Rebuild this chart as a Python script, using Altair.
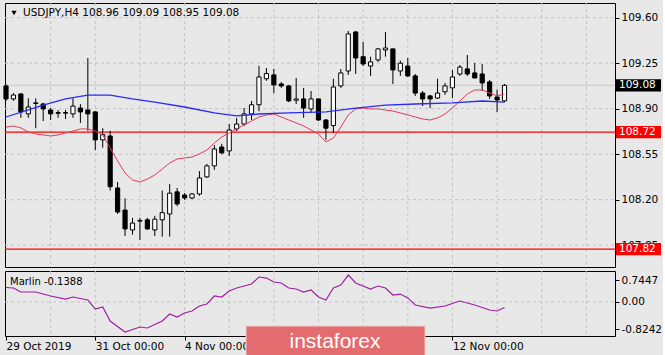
import altair as alt
import pandas as pd

# ---------------- data ----------------
opens = [109.075, 108.975, 109.013, 108.860, 108.940, 108.936, 108.890, 108.870, 108.865, 108.860,
         108.905, 108.890, 108.875, 108.660, 108.690, 108.290, 108.120, 107.967, 108.035, 108.045,
         107.967, 108.045, 108.090, 108.260, 108.236, 108.213, 108.244, 108.375, 108.460, 108.605,
         108.575, 108.744, 108.782, 108.860, 108.930, 109.130, 109.160, 109.090, 109.075, 108.965,
         108.975, 108.898, 108.975, 108.813, 108.770, 109.075, 109.190, 109.490, 109.300, 109.228,
         109.275, 109.352, 109.360, 109.190, 109.228, 109.152, 109.020, 108.998, 108.982, 109.030,
         109.060, 109.167, 109.206, 109.175, 109.167, 109.106, 108.990, 108.960]
highs = [109.090, 109.020, 109.020, 108.980, 108.980, 108.945, 108.905, 108.890, 108.890, 108.980,
         108.935, 109.290, 108.880, 108.750, 108.730, 108.336, 108.210, 108.060, 108.060, 108.060,
         108.075, 108.270, 108.320, 108.290, 108.250, 108.250, 108.420, 108.475, 108.620, 108.630,
         108.782, 108.828, 108.905, 108.960, 109.230, 109.213, 109.206, 109.105, 109.083, 109.136,
         109.060, 109.035, 108.980, 108.820, 109.130, 109.205, 109.498, 109.498, 109.413, 109.300,
         109.367, 109.490, 109.360, 109.270, 109.290, 109.167, 109.036, 109.006, 109.130, 109.098,
         109.198, 109.236, 109.313, 109.252, 109.244, 109.120, 109.045, 109.090]
lows = [108.960, 108.960, 108.830, 108.830, 108.750, 108.805, 108.813, 108.830, 108.820, 108.830,
        108.790, 108.730, 108.580, 108.600, 108.270, 108.090, 107.920, 107.930, 107.890, 107.967,
        107.920, 107.915, 107.915, 108.150, 108.198, 108.205, 108.230, 108.367, 108.430, 108.550,
        108.536, 108.728, 108.767, 108.813, 108.880, 109.114, 109.020, 109.060, 108.950, 108.936,
        108.830, 108.867, 108.805, 108.660, 108.713, 109.060, 109.160, 109.167, 109.228, 109.152,
        109.260, 109.300, 109.090, 109.152, 109.144, 108.998, 108.920, 108.905, 108.975, 109.006,
        108.982, 109.152, 109.152, 109.136, 109.036, 108.975, 108.875, 108.950]
closes = [108.975, 109.005, 108.875, 108.913, 108.945, 108.898, 108.860, 108.865, 108.870, 108.920,
          108.875, 108.860, 108.660, 108.700, 108.300, 108.105, 107.975, 108.020, 108.040, 107.975,
          108.050, 108.100, 108.250, 108.167, 108.213, 108.244, 108.367, 108.460, 108.590, 108.560,
          108.736, 108.782, 108.860, 108.930, 109.144, 109.170, 109.083, 109.075, 108.960, 108.975,
          108.905, 108.975, 108.813, 108.750, 109.067, 109.175, 109.475, 109.290, 109.244, 109.260,
          109.360, 109.367, 109.198, 109.250, 109.152, 109.020, 108.975, 108.975, 109.020, 109.075,
          109.144, 109.220, 109.167, 109.136, 109.098, 108.998, 108.967, 109.080]

red_ma = [108.759, 108.767, 108.752, 108.721, 108.705, 108.698, 108.690, 108.698, 108.713, 108.728,
          108.744, 108.744, 108.728, 108.698, 108.598, 108.498, 108.405, 108.352, 108.336, 108.359,
          108.390, 108.436, 108.482, 108.513, 108.521, 108.528, 108.552, 108.582, 108.636, 108.682,
          108.713, 108.744, 108.775, 108.805, 108.836, 108.852, 108.859, 108.836, 108.813, 108.790,
          108.767, 108.736, 108.705, 108.644, 108.675, 108.759, 108.852, 108.898, 108.905, 108.898,
          108.898, 108.890, 108.882, 108.867, 108.852, 108.836, 108.821, 108.813, 108.829, 108.859,
          108.905, 108.959, 109.013, 109.044, 109.044, 109.021, 108.998, 109.013]

blue_idx = [0, 3, 5, 8, 11, 14, 17, 20, 24, 28, 31, 34, 38, 43, 47, 51, 55, 60, 64, 67]
blue_ma = [108.836, 108.890, 108.928, 108.975, 109.005, 109.005, 108.975, 108.951, 108.913, 108.867,
           108.844, 108.859, 108.867, 108.875, 108.905, 108.928, 108.936, 108.944, 108.959, 108.951]

marlin_idx = [0, 1, 2, 4, 6, 8, 9, 11, 12, 13, 14, 16, 18, 19, 21, 22, 23, 24, 25, 26, 27, 28, 29,
              30, 31, 33, 34, 35, 36, 37, 38, 39, 40, 41, 42, 43, 44, 45, 46, 47, 49, 50, 51, 52,
              53, 54, 55, 57, 59, 61, 63, 65, 66, 67]
marlin_val = [0.360, 0.347, 0.247, 0.247, 0.148, 0.073, 0.123, 0.048, -0.176, -0.126, -0.474,
              -0.748, -0.623, -0.648, -0.474, -0.300, -0.375, -0.275, -0.225, -0.100, -0.050,
              0.148, 0.123, 0.272, 0.347, 0.446, 0.620, 0.595, 0.496, 0.471, 0.347, 0.322, 0.247,
              0.297, 0.123, 0.048, 0.347, 0.421, 0.670, 0.471, 0.322, 0.396, 0.347, 0.173, 0.197,
              0.100, -0.076, -0.151, -0.101, 0.023, -0.076, -0.200, -0.225, -0.139]

price_ticks = [107.85, 108.20, 108.55, 108.90, 109.25, 109.60]
level_prices = [108.72, 107.82]
bid_price = [109.08]
box_prices = [109.08, 108.72, 107.82]
box_texts = ["109.08", "108.72", "107.82"]
box_colors = ["#000000", "#ff0000", "#ff0000"]
grid_idx = [6, 12, 18, 24, 30, 36, 42, 48, 54, 60, 66, 72, 78]
date_idx = [0, 12, 24, 60]
date_text = ["29 Oct 2019", "31 Oct 00:00", "4 Nov 00:00", "12 Nov 00:00"]
osc_tick_pos = [0.546, 0.0, -0.673]
osc_tick_text = ["0.7447", "0.00", "-0.8242"]
header_text = ["USDJPY,H4  108.96 109.09 108.95 109.08"]
osc_label = ["Marlin -0.1388"]
watermark = ["instaforex"]

# ---------------- tables ----------------
candles = pd.DataFrame({"i": list(range(len(opens))), "o": opens, "h": highs, "l": lows, "c": closes})
df_red = pd.DataFrame({"i": list(range(len(red_ma))), "p": red_ma})
df_blue = pd.DataFrame({"i": blue_idx, "p": blue_ma})
df_marlin = pd.DataFrame({"i": marlin_idx, "v": marlin_val})
df_grid = pd.DataFrame({"i": grid_idx})
df_ticks = pd.DataFrame({"p": price_ticks})
df_levels = pd.DataFrame({"p": level_prices})
df_bid = pd.DataFrame({"p": bid_price})
df_box = pd.DataFrame({"p": box_prices, "t": box_texts, "col": box_colors})
df_zero = pd.DataFrame({"v": [0.0]})

FONT = "DejaVu Sans"
BG = "#e8e8e8"
GRID = "#c3c3c3"
W, HM, HS = 610, 264, 65

xs = alt.Scale(domain=[-0.134, 81.85], nice=False, zero=False)
ys = alt.Scale(domain=[107.682, 109.713], nice=False, zero=False)
ms = alt.Scale(domain=[-0.847, 0.77], nice=False, zero=False)

y_axis_main = alt.Axis(orient="right", values=price_ticks, format=".2f", tickSize=4, tickColor="black",
                       labelColor="black", labelFont=FONT, labelFontSize=10.5, labelPadding=2,
                       domain=False, grid=False, labelOverlap=False, zindex=0)


def Xm(field="i"):
    return alt.X(f"{field}:Q", scale=xs, axis=None, title="")


def Yp(field):
    return alt.Y(f"{field}:Q", scale=ys, axis=y_axis_main, title="")


vgrid = alt.Chart(df_grid).mark_rule(color=GRID, strokeDash=[3, 3], strokeWidth=1).encode(
    x=Xm(), y=alt.value(0), y2=alt.value(HM))
hgrid = alt.Chart(df_ticks).mark_rule(color=GRID, strokeDash=[3, 3], strokeWidth=1).encode(
    y=Yp("p"), x=alt.value(0), x2=alt.value(W))
bidline = alt.Chart(df_bid).mark_rule(color="#c8c8c8", strokeWidth=1).encode(
    y=Yp("p"), x=alt.value(0), x2=alt.value(W))
levels = alt.Chart(df_levels).mark_rule(color="#ff0000", strokeWidth=1.2).encode(
    y=Yp("p"), x=alt.value(0), x2=alt.value(W))
wicks = alt.Chart(candles).mark_rule(color="black", strokeWidth=1).encode(
    x=Xm(), y=Yp("l"), y2="h:Q")
bodies = alt.Chart(candles).transform_calculate(
    x0="datum.i - 0.28", x1="datum.i + 0.28"
).mark_bar(stroke="black", strokeWidth=1).encode(
    x=Xm("x0"), x2="x1:Q", y=Yp("o"), y2="c:Q",
    fill=alt.condition("datum.c >= datum.o", alt.value("white"), alt.value("black")))
red_line = alt.Chart(df_red).mark_line(color="#e33a5c", strokeWidth=1).encode(x=Xm(), y=Yp("p"))
blue_line = alt.Chart(df_blue).mark_line(color="#2b2bf5", strokeWidth=1.3).encode(x=Xm(), y=Yp("p"))
boxes = alt.Chart(df_box).transform_calculate(
    y0="datum.p - 0.047", y1="datum.p + 0.047"
).mark_rect().encode(
    y=Yp("y0"), y2="y1:Q", x=alt.value(W + 1), x2=alt.value(W + 46),
    color=alt.Color("col:N", scale=None))
box_text = alt.Chart(df_box).mark_text(align="left", baseline="middle", color="white", font=FONT,
                                       fontSize=10.5).encode(
    y=Yp("p"), x=alt.value(W + 4), text="t:N")
tri = alt.Chart(pd.DataFrame({"k": [1]})).mark_point(shape="triangle-down", filled=True, color="black",
                                                       size=28, opacity=1).encode(
    x=alt.value(9), y=alt.value(10))
header = alt.Chart(pd.DataFrame({"t": header_text})).mark_text(
    align="left", baseline="middle", font=FONT, fontSize=10.5, color="black").encode(
    x=alt.value(18), y=alt.value(10), text="t:N")

main = alt.layer(vgrid, hgrid, bidline, levels, wicks, bodies, red_line, blue_line,
                 boxes, box_text, tri, header).properties(width=W, height=HM)

# ---------------- oscillator panel ----------------
date_expr = " : ".join(f"datum.value == {k} ? '{t}'" for k, t in zip(date_idx, date_text)) + " : ''"
osc_expr = " : ".join(f"abs(datum.value - ({k})) < 0.001 ? '{t}'" for k, t in zip(osc_tick_pos, osc_tick_text)) + " : ''"

x_axis_sub = alt.Axis(orient="bottom", values=date_idx, labelExpr=date_expr, tickSize=4, tickColor="black",
                      labelAlign="left", labelBaseline="top", labelPadding=1, labelFont=FONT,
                      labelFontSize=10.5, labelColor="black", domain=False, grid=False,
                      labelOverlap=False, labelFlush=False, zindex=0)
y_axis_sub = alt.Axis(orient="right", values=osc_tick_pos, labelExpr=osc_expr, tickSize=4, tickColor="black",
                      labelColor="black", labelFont=FONT, labelFontSize=10.5, labelPadding=2,
                      domain=False, grid=False, labelOverlap=False, zindex=0)


def Xs(field="i"):
    return alt.X(f"{field}:Q", scale=xs, axis=x_axis_sub, title="")


def Ym(field):
    return alt.Y(f"{field}:Q", scale=ms, axis=y_axis_sub, title="")


vgrid_b = alt.Chart(df_grid).mark_rule(color=GRID, strokeDash=[3, 3], strokeWidth=1).encode(
    x=Xs(), y=alt.value(0), y2=alt.value(HS))
zero_b = alt.Chart(df_zero).mark_rule(color=GRID, strokeDash=[3, 3], strokeWidth=1).encode(
    y=Ym("v"), x=alt.value(0), x2=alt.value(W))
marlin = alt.Chart(df_marlin).mark_line(color="#a020a0", strokeWidth=1.2).encode(x=Xs(), y=Ym("v"))
osc_text = alt.Chart(pd.DataFrame({"t": osc_label})).mark_text(
    align="left", baseline="middle", font=FONT, fontSize=10, color="black").encode(
    x=alt.value(5), y=alt.value(11), text="t:N")
wm_box = alt.Chart(pd.DataFrame({"k": [1]})).mark_rect(fill="#e36c6f", stroke="#f4caca", strokeWidth=1).encode(
    x=alt.value(241), x2=alt.value(420), y=alt.value(55), y2=alt.value(95))
wm_text = alt.Chart(pd.DataFrame({"t": watermark})).mark_text(
    align="center", baseline="middle", font="Liberation Sans", fontSize=21, color="white").encode(
    x=alt.value(330), y=alt.value(71), text="t:N")

sub = alt.layer(vgrid_b, zero_b, marlin, osc_text, wm_box, wm_text).properties(width=W, height=HS)

chart = alt.vconcat(main, sub, spacing=2).properties(
    padding={"left": 2, "top": 2, "right": 0, "bottom": 0}
).configure(background=BG).configure_view(stroke="black", strokeWidth=1, fill=BG)

chart.save("out.html", embed_options={"renderer": "svg", "actions": False})
